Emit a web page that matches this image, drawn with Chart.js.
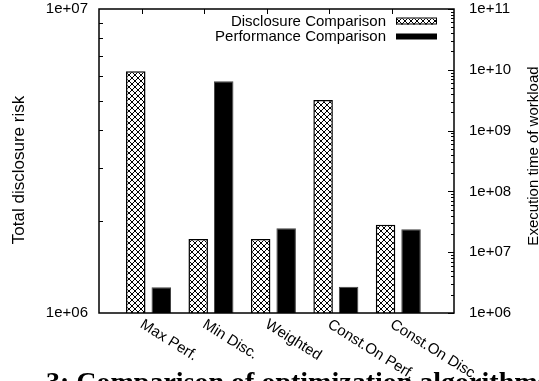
<!DOCTYPE html>
<html><head><meta charset="utf-8">
<script src="https://cdn.jsdelivr.net/npm/chart.js@4.4.1/dist/chart.umd.min.js"></script>
<style>html,body{margin:0;padding:0;background:#fff;overflow:hidden}#wrap{width:539px;height:381px;position:relative}</style>
</head><body><div id="wrap"><canvas id="c" width="539" height="381"></canvas></div>
<script>
const categories = ['Max Perf.', 'Min Disc.', 'Weighted', 'Const.On Perf.', 'Const.On Disc.'];
const disclosureRisk = [6.24e6, 1.75e6, 1.75e6, 5.02e6, 1.95e6];
const executionTime = [2.65e6, 6.5e9, 2.47e7, 2.71e6, 2.38e7];
const leftTickValues = [1e6, 1e7];
const leftTickLabels = ['1e+06', '1e+07'];
const rightTickValues = [1e6, 1e7, 1e8, 1e9, 1e10, 1e11];
const rightTickLabels = ['1e+06', '1e+07', '1e+08', '1e+09', '1e+10', '1e+11'];
const seriesNames = ['Disclosure Comparison', 'Performance Comparison'];
const leftAxisTitle = 'Total disclosure risk';
const rightAxisTitle = 'Execution time of workload';
const caption = '3: Comparison of optimization algorithms';

const SANS = '"Liberation Sans", Arial, sans-serif';

function makeHatch(ctx) {
  const p = document.createElement('canvas');
  p.width = 6; p.height = 6;
  const g = p.getContext('2d');
  g.fillStyle = '#fff'; g.fillRect(0, 0, 6, 6);
  g.strokeStyle = '#000'; g.lineWidth = 1;
  g.beginPath();
  g.moveTo(0, 0); g.lineTo(6, 6);
  g.moveTo(6, 0); g.lineTo(0, 6);
  g.stroke();
  return ctx.createPattern(p, 'repeat');
}

const canvas = document.getElementById('c');
const ctx0 = canvas.getContext('2d');
const hatch = makeHatch(ctx0);

function noPad(s) { s.paddingTop = 0; s.paddingBottom = 0; s.paddingLeft = 0; s.paddingRight = 0; }

const decorPlugin = {
  id: 'decor',
  afterDatasetsDraw(chart) {
    const ctx = chart.ctx;
    const a = chart.chartArea;
    const xs = chart.scales.x, yL = chart.scales.yL, yR = chart.scales.yR;
    ctx.save();
    ctx.strokeStyle = '#000';
    ctx.lineWidth = 1.5;
    ctx.strokeRect(a.left, a.top, a.right - a.left, a.bottom - a.top);
    ctx.lineWidth = 1;
    ctx.beginPath();
    for (let m = 2; m <= 9; m++) {
      const y = Math.round(yL.getPixelForValue(m * 1e6)) + 0.5;
      ctx.moveTo(a.left, y); ctx.lineTo(a.left + 4, y);
    }
    for (let k = 0; k < rightTickValues.length; k++) {
      const base = rightTickValues[k];
      const y = Math.round(yR.getPixelForValue(base)) + 0.5;
      ctx.moveTo(a.right, y); ctx.lineTo(a.right - 6, y);
      if (k < rightTickValues.length - 1) {
        for (let m = 2; m <= 9; m++) {
          const ym = Math.round(yR.getPixelForValue(m * base)) + 0.5;
          ctx.moveTo(a.right, ym); ctx.lineTo(a.right - 3, ym);
        }
      }
    }
    for (let i = 0; i < categories.length; i++) {
      const x = Math.round(xs.getPixelForValue(i) - 6.5) + 0.5;
      ctx.moveTo(x, a.top); ctx.lineTo(x, a.top + 5);
    }
    ctx.stroke();

    // legend
    ctx.fillStyle = '#000';
    ctx.font = '15px ' + SANS;
    ctx.textAlign = 'right';
    ctx.textBaseline = 'middle';
    const rows = [21.5, 36.5];
    ctx.fillText(seriesNames[0], 386, rows[0]);
    ctx.fillText(seriesNames[1], 386, rows[1]);
    ctx.fillStyle = hatch;
    ctx.fillRect(396, rows[0] - 3, 41, 6);
    ctx.strokeStyle = '#000';
    ctx.lineWidth = 1;
    ctx.strokeRect(396.5, rows[0] - 3.5, 40, 6);
    ctx.fillStyle = '#000';
    ctx.fillRect(396, rows[1] - 3, 41, 6);

    // rotated category labels
    ctx.font = '15px ' + SANS;
    ctx.textAlign = 'left';
    ctx.textBaseline = 'top';
    for (let i = 0; i < categories.length; i++) {
      const x = xs.getPixelForValue(i) - 3;
      ctx.save();
      ctx.translate(x, a.bottom + 4);
      ctx.rotate(32 * Math.PI / 180);
      ctx.fillText(categories[i], 0, 0);
      ctx.restore();
    }

    // left axis title
    ctx.save();
    ctx.font = '17px ' + SANS;
    ctx.translate(19, 170);
    ctx.rotate(-Math.PI / 2);
    ctx.textAlign = 'center';
    ctx.textBaseline = 'middle';
    ctx.fillText(leftAxisTitle, 0, 0);
    ctx.restore();

    // right axis title
    ctx.save();
    ctx.font = '15px ' + SANS;
    ctx.translate(534, 156);
    ctx.rotate(-Math.PI / 2);
    ctx.textAlign = 'center';
    ctx.textBaseline = 'middle';
    ctx.fillText(rightAxisTitle, 0, 0);
    ctx.restore();

    // caption (cut off at bottom)
    ctx.font = 'bold 28px "Liberation Serif", "Times New Roman", serif';
    ctx.textAlign = 'left';
    ctx.textBaseline = 'alphabetic';
    ctx.fillText(caption, 46, 391);
    ctx.restore();
  }
};

new Chart(canvas, {
  type: 'bar',
  data: {
    datasets: [
      {
        label: seriesNames[0],
        data: disclosureRisk.map((v, i) => ({ x: i, y: v })),
        yAxisID: 'yL',
        backgroundColor: hatch,
        borderColor: '#000',
        borderWidth: 1.5
      },
      {
        label: seriesNames[1],
        data: executionTime.map((v, i) => ({ x: i, y: v })),
        yAxisID: 'yR',
        backgroundColor: '#000',
        borderColor: '#444',
        borderWidth: 1
      }
    ]
  },
  options: {
    responsive: false,
    animation: false,
    devicePixelRatio: 1,
    layout: { padding: { top: 9, left: 0, right: 0, bottom: 0 } },
    datasets: { bar: { categoryPercentage: 0.8167, barPercentage: 0.765 } },
    plugins: { legend: { display: false }, tooltip: { enabled: false } },
    scales: {
      x: {
        type: 'linear', min: -0.793, max: 4.892, offset: false,
        afterBuildTicks(s) { s.ticks = categories.map((c, i) => ({ value: i })); },
        grid: { display: false, drawTicks: false, offset: false },
        border: { display: false },
        ticks: { display: false },
        afterFit(s) { s.height = 68; noPad(s); }
      },
      yL: {
        type: 'logarithmic', position: 'left', min: 1e6, max: 1e7,
        afterBuildTicks(s) { s.ticks = leftTickValues.map(v => ({ value: v })); },
        ticks: {
          autoSkip: false, padding: 11, color: '#000',
          font: { family: SANS, size: 15 },
          callback: (v) => { const i = leftTickValues.indexOf(v); return i >= 0 ? leftTickLabels[i] : ''; }
        },
        grid: { display: false, drawTicks: false },
        border: { display: false },
        afterFit(s) { s.width = 99; noPad(s); }
      },
      yR: {
        type: 'logarithmic', position: 'right', min: 1e6, max: 1e11,
        afterBuildTicks(s) { s.ticks = rightTickValues.map(v => ({ value: v })); },
        ticks: {
          autoSkip: false, padding: 15, color: '#000',
          font: { family: SANS, size: 15 },
          callback: (v) => { const i = rightTickValues.indexOf(v); return i >= 0 ? rightTickLabels[i] : ''; }
        },
        grid: { display: false, drawTicks: false },
        border: { display: false },
        afterFit(s) { s.width = 85; noPad(s); }
      }
    }
  },
  plugins: [decorPlugin]
});
</script>
</body></html>
